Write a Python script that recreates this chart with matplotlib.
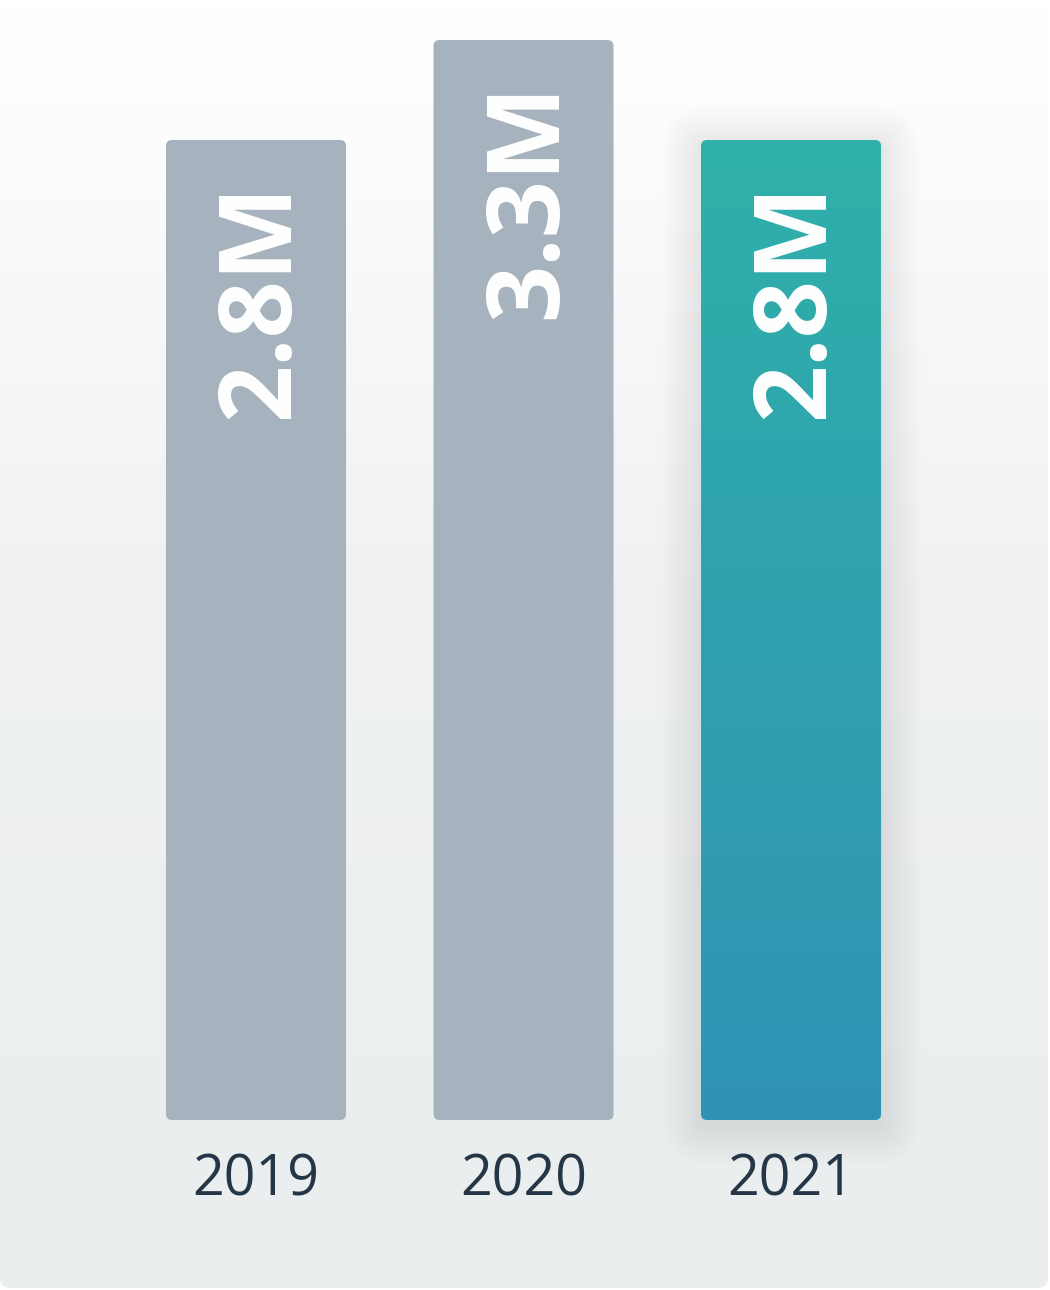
import numpy as np
import matplotlib.pyplot as plt
from matplotlib.patches import FancyBboxPatch
from matplotlib.colors import LinearSegmentedColormap

# data
years = ["2019", "2020", "2021"]
values = [2.8, 3.3, 2.8]
value_labels = ["2.8M", "3.3M", "2.8M"]
highlight_year = "2021"

W, H = 1050, 1290
fig = plt.figure(figsize=(W / 100, H / 100), dpi=100, facecolor="white")

# background card with vertical gradient
bg = fig.add_axes([0, 0, 1, 1])
bg.set_xlim(0, W)
bg.set_ylim(H, 0)
bg.axis("off")
bg_cmap = LinearSegmentedColormap.from_list(
    "bg", [(0, "#ffffff"), (0.15, "#fbfbfc"), (0.45, "#eff1f2"), (1, "#eaeeef")])
card = FancyBboxPatch((0, -30), 1048, 1318, boxstyle="round,pad=0,rounding_size=10",
                      facecolor="none", edgecolor="none")
bg.add_patch(card)
grad = np.linspace(0, 1, 256).reshape(-1, 1)
im = bg.imshow(grad, extent=(0, 1048, 1288, 0), aspect="auto", cmap=bg_cmap)
im.set_clip_path(card)

# chart axes
ax = fig.add_axes([0, 0, 1, 1])
ax.patch.set_alpha(0)
ax.axis("off")
ax.set_xlim(-0.957, 2.968)
ax.set_ylim(-2.95, 3.5)
base = -2.1
bar_w = 0.673

x = np.arange(len(years))
bars = ax.bar(x, np.array(values) - base, bottom=base, width=bar_w, alpha=0)

px_x = 267.5  # pixels per x unit
px_y = 200.0  # pixels per y unit
r = 6 / px_x
aspect = px_x / px_y

teal = LinearSegmentedColormap.from_list("teal", ["#2fb0aa", "#2f92b4"])

for b, year, lab in zip(bars, years, value_labels):
    x0, y0 = b.get_x(), b.get_y()
    w, h = b.get_width(), b.get_height()
    if year == highlight_year:
        # soft shadow
        for i in range(20):
            pad = (2 + i * 2.0) / px_x
            sh = FancyBboxPatch((x0, y0 - 5 / px_y), w, h,
                                boxstyle=f"round,pad={pad},rounding_size={r + pad}",
                                mutation_aspect=aspect, facecolor="#7f8a90",
                                edgecolor="none", alpha=0.008, zorder=1)
            ax.add_patch(sh)
        p = FancyBboxPatch((x0, y0), w, h, boxstyle=f"round,pad=0,rounding_size={r}",
                           mutation_aspect=aspect, facecolor="none", edgecolor="none",
                           zorder=2)
        ax.add_patch(p)
        gim = ax.imshow(grad, extent=(x0, x0 + w, y0, y0 + h), aspect="auto",
                        cmap=teal, origin="upper", zorder=2)
        gim.set_clip_path(p)
    else:
        p = FancyBboxPatch((x0, y0), w, h, boxstyle=f"round,pad=0,rounding_size={r}",
                           mutation_aspect=aspect, facecolor="#a6b3be", edgecolor="none",
                           zorder=2)
        ax.add_patch(p)
    top = y0 + h
    ax.annotate(lab, xy=(x0 + w / 2, top), xytext=(6, -42), textcoords="offset pixels",
                rotation=90, ha="center", va="top", color="white", fontsize=72,
                fontweight="bold", family="Open Sans", zorder=3)
    ax.annotate(year, xy=(x0 + w / 2, y0), xytext=(0, -76), textcoords="offset pixels",
                ha="center", va="baseline", color="#253746", fontsize=40,
                family="Open Sans", zorder=3)

ax.set_xlim(-0.957, 2.968)
ax.set_ylim(-2.95, 3.5)

fig.savefig("out.png", dpi=100, facecolor="white")
